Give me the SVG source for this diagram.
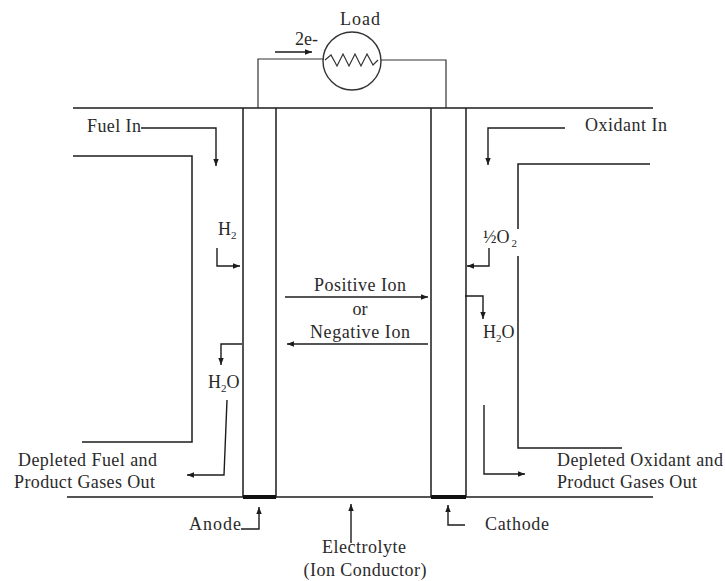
<svg xmlns="http://www.w3.org/2000/svg" width="725" height="581" viewBox="0 0 725 581">
<style>
text{font-family:"Liberation Serif","Times New Roman",serif;font-size:18px;fill:#2a2a2a}
.c{text-anchor:middle}
.s{font-size:11px}
.l{fill:none;stroke:#1c1c1c;stroke-width:1.5}
.a{fill:none;stroke:#1c1c1c;stroke-width:1.4;marker-end:url(#ah)}
.t{fill:none;stroke:#333;stroke-width:1.2}
</style>
<defs>
<marker id="ah" markerUnits="userSpaceOnUse" markerWidth="8" markerHeight="7" refX="7" refY="3.5" orient="auto"><path d="M0 0.8L7 3.5L0 6.2Z" fill="#1c1c1c"/></marker>
</defs>
<rect width="725" height="581" fill="#fff"/>
<g id="housing">
<path class="l" d="M73 108H653M67 497H653"/>
<path class="l" d="M73 156H192V442H82"/>
<path class="l" d="M650 164H518V229M518 256V448H622"/>
</g>
<g id="anode"><path class="l" d="M243 108V497M276 108V497"/><path d="M243 497H276" stroke="#111" stroke-width="4"/></g>
<g id="cathode"><path class="l" d="M431 108V497M466 108V497"/><path d="M431 497H466" stroke="#111" stroke-width="4"/></g>
<g id="load">
<circle cx="352" cy="61" r="29" fill="#fff" stroke="#333" stroke-width="1.4"/>
<path class="t" d="M325 60L331 55L337 66L343 54L349 66L355 54L361 66L367 54L373 65L378 60"/>
<text class="c" x="360" y="25" textLength="40">Load</text>
</g>
<g id="connectors">
<path class="t" d="M258 108V59H323M381 60H446V108"/>
<path class="a" d="M275 52H312"/>
<path class="a" d="M141 128H216V166"/>
<path class="a" d="M217 248V266H240"/>
<path class="a" d="M242 344H221V365"/>
<path class="a" d="M227 400L224 475H187"/>
<path class="a" d="M565 128H488V165"/>
<path class="a" d="M489 248V266H467"/>
<path class="a" d="M465 296H483V319"/>
<path class="a" d="M484 405V474H525"/>
<path class="a" d="M285 297H428"/>
<path class="a" d="M428 344H287"/>
<path class="a" d="M241 529H259V507"/>
<path class="a" d="M465 525H448V505"/>
<path class="a" d="M351 543V504"/>
</g>
<g id="labels">
<text x="295" y="45" textLength="23">2e-</text>
<text x="87" y="132" textLength="54">Fuel In</text>
<text x="585" y="131" textLength="82">Oxidant In</text>
<text x="218" y="235">H<tspan class="s" dy="4">2</tspan></text>
<text x="483" y="243">½O<tspan class="s" dx="2" dy="4">2</tspan></text>
<text x="483" y="338">H<tspan class="s" dy="4">2</tspan><tspan dy="-4">O</tspan></text>
<text x="208" y="388">H<tspan class="s" dy="4">2</tspan><tspan dy="-4">O</tspan></text>
<text class="c" x="360" y="291" textLength="92">Positive Ion</text>
<text class="c" x="360" y="315">or</text>
<text class="c" x="360" y="338" textLength="100">Negative Ion</text>
<text x="18" y="466" textLength="139">Depleted Fuel and</text>
<text x="14" y="488" textLength="141">Product Gases Out</text>
<text x="557" y="466" textLength="166">Depleted Oxidant and</text>
<text x="557" y="488" textLength="140">Product Gases Out</text>
<text x="189" y="530" textLength="52">Anode</text>
<text x="485" y="530" textLength="64">Cathode</text>
<text class="c" x="364" y="553" textLength="84">Electrolyte</text>
<text class="c" x="365" y="576" textLength="123">(Ion Conductor)</text>
</g>
</svg>
